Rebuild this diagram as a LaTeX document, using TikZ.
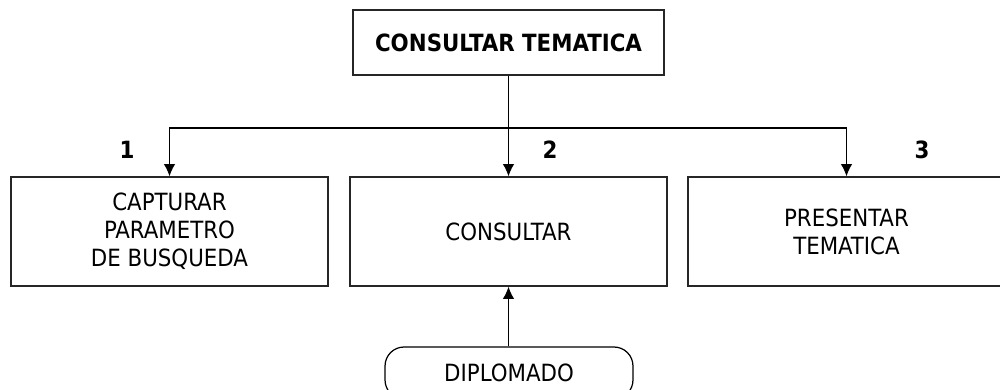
\documentclass[tikz,border=0pt]{standalone}
\usepackage{fontspec}
\setmainfont{DejaVu Sans Condensed}
\usetikzlibrary{arrows.meta}

\tikzset{
    caja/.style={draw=black!85, line width=0.8pt, minimum width=6.34cm, minimum height=2.18cm,
        inner sep=0pt, align=center, font=\fontsize{13.5}{16}\selectfont},
    flecha/.style={line width=0.7pt, -{Latex[length=7pt, width=6.6pt]}},
    numero/.style={font=\fontsize{13.5}{16}\selectfont\bfseries}
}

\begin{document}
\begin{tikzpicture}[x=0.02cm, y=-0.02cm]
    % Page frame (1000 x 389 px)
    \useasboundingbox (0, 0) rectangle (1000, 389);
    \clip (0, 0) rectangle (1000, 389);

    % Main module
    \node[caja, minimum width=6.22cm, minimum height=1.3cm, font=\fontsize{13.5}{16}\selectfont\bfseries]
        (tema) at (508.5, 42.5) {CONSULTAR TEMATICA};

    % Sub modules
    \node[caja] (captura) at (169.5, 231.5) {CAPTURAR\\PARAMETRO\\DE BUSQUEDA};
    \node[caja] (consulta) at (508.5, 231.5) {CONSULTAR};
    \node[caja] (presenta) at (846.5, 231.5) {PRESENTAR\\TEMATICA};

    % Data store
    \node[draw=black, line width=0.7pt, rounded corners=0.38cm, minimum width=4.96cm, minimum height=1.04cm,
        inner sep=0pt, font=\fontsize{13.5}{16}\selectfont] (diplomado) at (509, 373) {DIPLOMADO};

    % Connectors
    \coordinate (bus) at (508.5, 128);
    \draw[line width=0.7pt] (tema.south) -- (bus);
    \draw[flecha] (bus) -| (captura.north);
    \draw[flecha] (bus) -- (consulta.north);
    \draw[flecha] (bus) -| (presenta.north);
    \draw[flecha] (diplomado.north -| consulta.south) -- (consulta.south);

    % Numbers
    \foreach \x/\n in {127/1, 550/2, 922/3} {
        \node[numero] (num\n) at (\x, 150) {\n};
    }
\end{tikzpicture}
\end{document}
